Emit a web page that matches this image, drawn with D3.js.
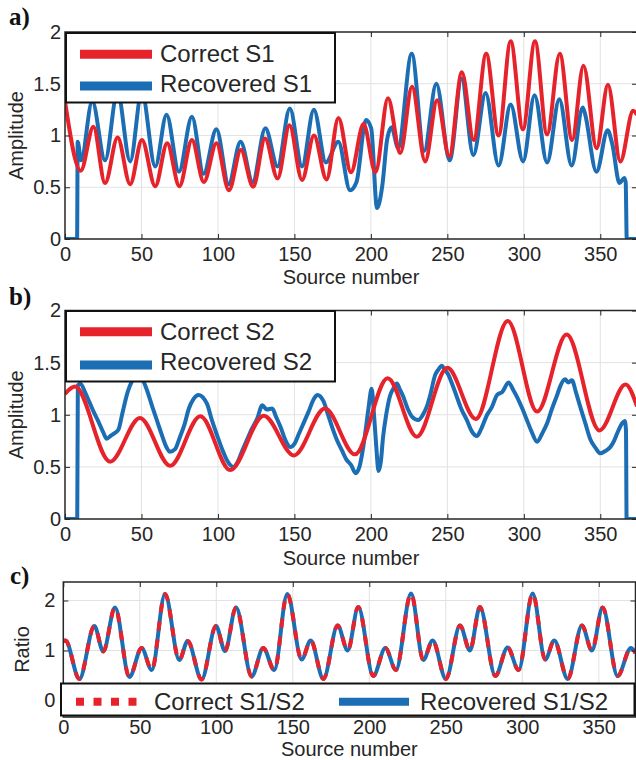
<!DOCTYPE html>
<html>
<head>
<meta charset="utf-8">
<script src="https://cdn.jsdelivr.net/npm/d3@7"></script>
<style>
  body { margin: 0; background: #fff; }
  svg { display: block; }
</style>
</head>
<body>
<svg id="fig" width="636" height="760"></svg>
<script>
// ---- data ---------------------------------------------------------------
const sourceDomain = [0, 374];
const sourceTicks = [0, 50, 100, 150, 200, 250, 300, 350];
const amplitudeTicks = [0, 0.5, 1, 1.5, 2];
const ratioTicks = [0, 1, 2];

// [source number, amplitude]
const correctS1 = [[0,1.33],[10.3,0.66],[18.6,1.085],[26.2,0.54],[34.4,0.98],[42.6,0.53],[50.3,0.957],[59,0.51],[66.8,0.925],[74.8,0.51],[83,0.957],[90.8,0.55],[99,0.925],[107.2,0.47],[115,0.86],[123,0.505],[130.8,0.97],[139,0.585],[146.8,1.10],[155,0.57],[162.8,1.0],[171,0.575],[178.8,1.17],[187,0.645],[195.2,1.11],[203,0.645],[211.2,1.36],[219.2,0.83],[226.9,1.47],[235.5,0.75],[243.3,1.34],[251.3,0.80],[259.5,1.61],[267.2,0.957],[275.4,1.79],[283.5,1.0],[291.4,1.91],[299.4,1.06],[307.3,1.91],[315.2,1.01],[323.5,1.79],[331.6,0.957],[339,1.675],[347.6,0.876],[355,1.49],[363.1,0.75],[371.5,1.24],[374,1.2]];

const recoveredS1 = [[0,0],[7.9,0],[8.3,0.94],[10.5,0.76],[17.8,1.33],[26.2,0.76],[34.3,1.42],[42.6,0.75],[50.2,1.42],[59,0.70],[66.4,1.20],[74.5,0.65],[83,1.18],[90.6,0.63],[99,1.06],[107,0.53],[114.8,0.94],[122.7,0.55],[131,1.07],[139,0.70],[147,1.26],[155,0.70],[162.7,1.25],[170.6,0.74],[178.7,0.94],[186.4,0.47],[190.6,0.55],[196.8,1.15],[200.2,1.07],[204,0.30],[207.5,0.52],[210.6,0.96],[213.5,1.08],[217.8,0.88],[226.7,1.79],[234.8,0.85],[242.8,1.50],[251.5,0.76],[259.3,1.55],[267,0.81],[275,1.41],[283.5,0.71],[291.4,1.30],[299.5,0.75],[307,1.39],[315.2,0.74],[323.2,1.35],[331.3,0.71],[338.5,1.27],[339.8,1.22],[347.5,0.65],[354.8,1.05],[357.8,0.92],[362.6,0.54],[365.6,0.59],[366.6,0.55],[367.3,0],[374,0]];

const correctS2 = [[0,1.20],[6.5,1.27],[29.5,0.55],[49,0.97],[68.8,0.51],[88.5,0.985],[108,0.47],[130,0.99],[149.7,0.61],[170,1.06],[189.6,0.62],[211,1.35],[230,0.79],[250,1.45],[268.6,0.96],[289.5,1.90],[308.7,1.03],[328,1.77],[349.5,0.85],[366.5,1.29],[374,1.08]];

const recoveredS2 = [[0,0],[8,0],[8.4,1.28],[10,1.30],[13,1.22],[16,1.12],[19,1.02],[22,0.93],[25,0.83],[27.3,0.77],[30,0.80],[33,0.83],[35,0.86],[37.6,1.02],[41,1.22],[44,1.33],[47,1.40],[50,1.36],[53.5,1.24],[57,1.08],[60,0.95],[63,0.82],[66,0.70],[68.6,0.645],[72,0.67],[75,0.78],[78,0.90],[81,1.06],[84,1.15],[87.4,1.19],[90,1.17],[93,1.10],[96,0.95],[99.5,0.80],[103,0.66],[106,0.56],[110,0.50],[113,0.55],[116,0.66],[119,0.76],[122,0.86],[125.6,0.96],[129,1.09],[132,1.05],[135.5,1.06],[138,0.98],[141,0.88],[144,0.76],[147.4,0.69],[150,0.72],[153,0.82],[156,0.92],[159,1.02],[163,1.16],[165,1.19],[169,1.13],[172,1.0],[175.4,0.85],[178,0.75],[181,0.66],[184,0.57],[187,0.52],[190,0.44],[192.5,0.50],[195,0.69],[197,0.90],[198.5,1.07],[200.5,1.25],[202,1.01],[203.5,0.70],[205,0.46],[206.5,0.55],[208,0.79],[210,1.0],[212.5,1.18],[215,1.26],[217,1.30],[219,1.24],[221,1.18],[224,1.06],[227,0.98],[231,0.95],[234,1.0],[236.6,1.08],[239,1.20],[242,1.38],[244,1.43],[246.4,1.47],[248,1.44],[250.8,1.38],[253,1.30],[256,1.18],[259,1.06],[262.7,0.95],[266,0.84],[269.3,0.795],[272,0.86],[276,1.0],[279,1.07],[282.5,1.19],[286,1.22],[290,1.31],[293,1.24],[295.6,1.17],[299,1.06],[302,0.95],[305,0.84],[308.7,0.74],[312,0.82],[315.3,0.92],[318,1.04],[321.8,1.19],[324,1.28],[327,1.34],[329,1.31],[331.5,1.33],[334,1.22],[337,1.07],[340,0.93],[343.6,0.76],[347,0.68],[350,0.63],[353,0.65],[356.6,0.69],[359,0.75],[361,0.82],[364.4,0.92],[366,0.94],[366.8,0.85],[367.2,0],[374,0]];

// S1/S2 ratio (correct and recovered coincide)
const ratioS1S2 = [[0,1.19],[1.4,1.20],[10.5,0.43],[20.3,1.49],[26.1,0.98],[33.8,1.86],[43.2,0.47],[51.2,1.05],[57.8,0.61],[66.5,2.13],[75.8,0.81],[81.3,1.19],[90.4,0.42],[99.8,1.49],[105.7,0.99],[112.9,1.86],[123.1,0.48],[130.7,1.05],[137.9,0.61],[146.4,2.13],[155.8,0.82],[161.7,1.20],[170,0.43],[179.3,1.50],[185.9,1.0],[192.8,1.87],[202.6,0.49],[210.5,1.05],[217.4,0.61],[227.3,2.14],[235.3,0.81],[241.4,1.20],[250.1,0.43],[259.3,1.50],[265.8,1.0],[272.3,1.87],[282.4,0.49],[290.4,1.06],[297.6,0.61],[306.8,2.14],[315,0.82],[320.9,1.20],[329.7,0.43],[339,1.50],[345.5,1.0],[352.5,1.86],[362.3,0.49],[371,1.05],[374,0.95]];

const legendA = ["Correct S1", "Recovered S1"];
const legendB = ["Correct S2", "Recovered S2"];
const legendC = ["Correct S1/S2", "Recovered S1/S2"];

// ---- styling ------------------------------------------------------------
const RED = "#e6232b";
const BLUE = "#1b6db4";
const INK = "#262626";
const GRID = "#e2e2e2";
const SANS = "'Liberation Sans', Arial, Helvetica, sans-serif";
const SERIF = "'Liberation Serif', 'Times New Roman', serif";

const svg = d3.select("#fig");

function styleAxis(sel, fontSize) {
  sel.attr("font-family", SANS).attr("font-size", fontSize).attr("color", INK);
  sel.select(".domain").remove();
  sel.selectAll(".tick line").attr("stroke", INK).attr("stroke-width", 1);
}

function drawPanel(o) {
  const x = d3.scaleLinear().domain(sourceDomain).range([o.left, o.right]);
  const y = d3.scaleLinear().domain(o.yDomain).range([o.bottom, o.top]);
  const g = svg.append("g");

  // grid
  g.append("g").selectAll("line").data(sourceTicks.filter(t => t > 0)).join("line")
    .attr("x1", d => x(d)).attr("x2", d => x(d))
    .attr("y1", o.top).attr("y2", o.bottom)
    .attr("stroke", GRID).attr("stroke-width", 1);
  g.append("g").selectAll("line").data(o.yTicks.filter(v => y(v) < o.bottom - 2 && y(v) > o.top + 2)).join("line")
    .attr("x1", o.left).attr("x2", o.right)
    .attr("y1", d => y(d)).attr("y2", d => y(d))
    .attr("stroke", GRID).attr("stroke-width", 1);

  // curves
  const clipId = "clip-" + o.tag;
  svg.append("clipPath").attr("id", clipId).append("rect")
    .attr("x", o.left).attr("y", o.top)
    .attr("width", o.right - o.left).attr("height", o.bottom - o.top);
  const plot = g.append("g").attr("clip-path", `url(#${clipId})`);
  const line = d3.line().x(d => x(d[0])).y(d => y(d[1])).curve(d3.curveMonotoneX);
  o.series.forEach(s => {
    plot.append("path").datum(s.data)
      .attr("d", line)
      .attr("fill", "none")
      .attr("stroke", s.color)
      .attr("stroke-width", s.width)
      .attr("stroke-linejoin", "round")
      .attr("stroke-dasharray", s.dash || null);
  });

  // axes (ticks inside on all four sides)
  g.append("g").attr("transform", `translate(0,${o.bottom})`)
    .call(d3.axisBottom(x).tickValues(sourceTicks).tickSize(-5).tickPadding(o.xPad))
    .call(s => styleAxis(s, 20));
  g.append("g").attr("transform", `translate(0,${o.top})`)
    .call(d3.axisTop(x).tickValues(sourceTicks).tickSize(-5).tickFormat(""))
    .call(s => styleAxis(s, 20));
  g.append("g").attr("transform", `translate(${o.left},0)`)
    .call(d3.axisLeft(y).tickValues(o.yTicks).tickSize(-5).tickPadding(o.yPad).tickFormat(d => String(d)))
    .call(s => styleAxis(s, 20));
  g.append("g").attr("transform", `translate(${o.right},0)`)
    .call(d3.axisRight(y).tickValues(o.yTicks).tickSize(-5).tickFormat(""))
    .call(s => styleAxis(s, 20));

  g.append("rect")
    .attr("x", o.left).attr("y", o.top)
    .attr("width", o.right - o.left).attr("height", o.bottom - o.top)
    .attr("fill", "none").attr("stroke", INK).attr("stroke-width", 1.5);

  // axis titles
  g.append("text")
    .attr("x", (o.left + o.right) / 2).attr("y", o.xTitleY)
    .attr("text-anchor", "middle")
    .attr("font-family", SANS).attr("font-size", 20).attr("fill", INK)
    .text("Source number");
  g.append("text")
    .attr("transform", `translate(${o.yTitleX},${(o.top + o.bottom) / 2}) rotate(-90)`)
    .attr("text-anchor", "middle")
    .attr("font-family", SANS).attr("font-size", 20).attr("fill", INK)
    .text(o.yTitle);

  // panel tag
  g.append("text")
    .attr("x", o.tagX).attr("y", o.tagY)
    .attr("font-family", SERIF).attr("font-weight", "bold").attr("font-size", 25).attr("fill", "#111")
    .text(o.tag + ")");

  // legend
  const L = o.legend;
  const lg = g.append("g");
  lg.append("rect")
    .attr("x", L.x0).attr("y", L.y0)
    .attr("width", L.x1 - L.x0).attr("height", L.y1 - L.y0)
    .attr("fill", "#fff").attr("stroke", "#111").attr("stroke-width", 2);
  L.items.forEach(it => {
    lg.append("line")
      .attr("x1", it.lx0).attr("x2", it.lx1)
      .attr("y1", it.ly).attr("y2", it.ly)
      .attr("stroke", it.color).attr("stroke-width", it.width)
      .attr("stroke-dasharray", it.dash || null);
    lg.append("text")
      .attr("x", it.tx).attr("y", it.ty)
      .attr("font-family", SANS).attr("font-size", 24).attr("fill", INK)
      .text(it.label);
  });
}

// a) source S1 — recovered drawn first so the correct curve sits on top
drawPanel({
  tag: "a", tagX: 9, tagY: 25,
  left: 65, right: 637, top: 32, bottom: 239,
  yDomain: [0, 2], yTicks: amplitudeTicks, yTitle: "Amplitude",
  xPad: 8, yPad: 4, xTitleY: 284, yTitleX: 23,
  series: [
    { data: recoveredS1, color: BLUE, width: 4 },
    { data: correctS1, color: RED, width: 4 }
  ],
  legend: {
    x0: 66, y0: 33, x1: 335, y1: 102.5,
    items: [
      { label: legendA[0], color: RED, width: 9, lx0: 80, lx1: 152, ly: 54.3, tx: 160, ty: 62 },
      { label: legendA[1], color: BLUE, width: 9, lx0: 80, lx1: 152, ly: 86, tx: 160, ty: 91.5 }
    ]
  }
});

// b) source S2
drawPanel({
  tag: "b", tagX: 9, tagY: 305,
  left: 65, right: 637, top: 310.5, bottom: 519,
  yDomain: [0, 2], yTicks: amplitudeTicks, yTitle: "Amplitude",
  xPad: 8, yPad: 4, xTitleY: 564.5, yTitleX: 23,
  series: [
    { data: recoveredS2, color: BLUE, width: 4 },
    { data: correctS2, color: RED, width: 4 }
  ],
  legend: {
    x0: 66, y0: 311, x1: 335, y1: 381.5,
    items: [
      { label: legendB[0], color: RED, width: 9, lx0: 80, lx1: 152, ly: 331.7, tx: 160, ty: 340 },
      { label: legendB[1], color: BLUE, width: 9, lx0: 80, lx1: 152, ly: 365, tx: 160, ty: 369.5 }
    ]
  }
});

// c) ratio S1/S2
drawPanel({
  tag: "c", tagX: 10, tagY: 584,
  left: 63.3, right: 635.5, top: 582, bottom: 717,
  yDomain: [-0.33, 2.37], yTicks: ratioTicks, yTitle: "Ratio",
  xPad: 2.5, yPad: 8, xTitleY: 755.5, yTitleX: 29,
  series: [
    { data: ratioS1S2, color: BLUE, width: 4 },
    { data: ratioS1S2, color: RED, width: 4, dash: "9,9" }
  ],
  legend: {
    x0: 61, y0: 683.5, x1: 634.5, y1: 715.5,
    items: [
      { label: legendC[0], color: RED, width: 8, dash: "8,9.5", lx0: 76, lx1: 137, ly: 701.7, tx: 154, ty: 710 },
      { label: legendC[1], color: BLUE, width: 8, lx0: 339, lx1: 409, ly: 701.7, tx: 420, ty: 710 }
    ]
  }
});
</script>
</body>
</html>
